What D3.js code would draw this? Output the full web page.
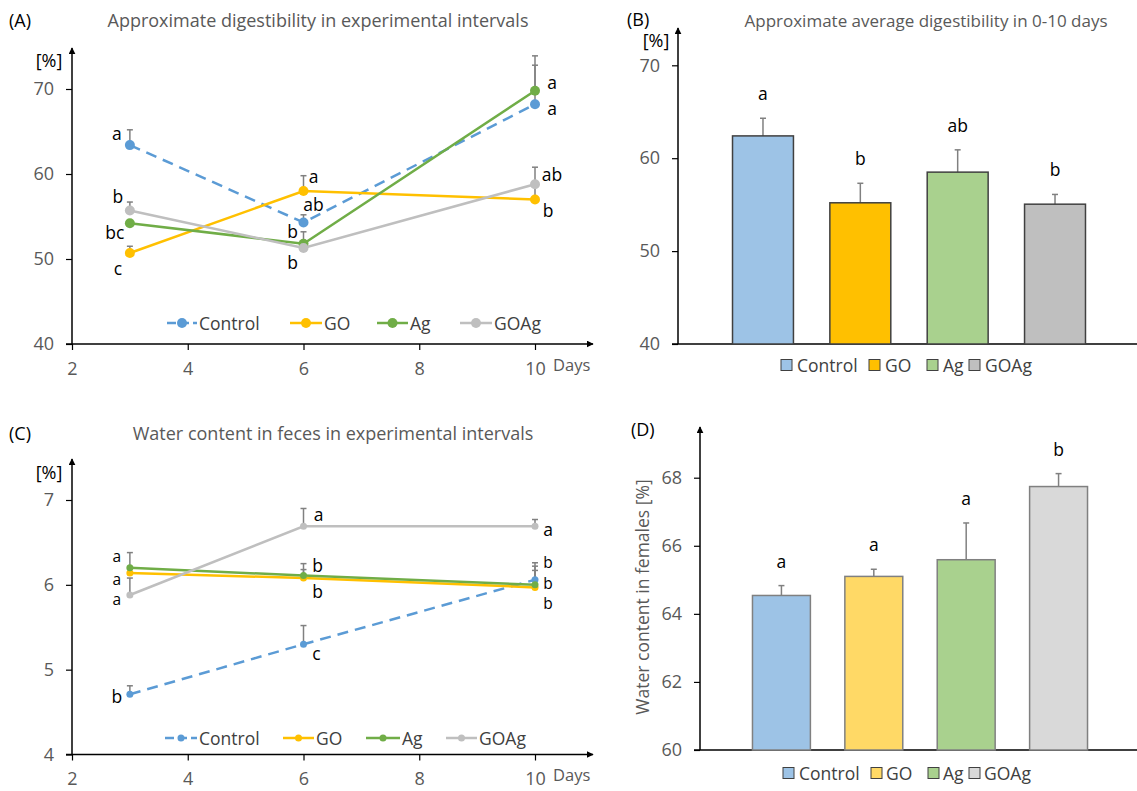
<!DOCTYPE html>
<html>
<head>
<meta charset="utf-8">
<script src="https://cdn.jsdelivr.net/npm/d3@7"></script>
<style>
  html, body { margin: 0; padding: 0; background: #fff; }
  svg { display: block; font-family: "Open Sans", "Noto Sans", sans-serif; }
</style>
</head>
<body>
<svg id="fig" width="1137" height="791"></svg>
<script>
// ---- Data -------------------------------------------------------------
const groups = ["Control", "GO", "Ag", "GOAg"];
const days = [3, 6, 10];

// (A) approximate digestibility per interval [%]
const digestControl = [63.4, 54.3, 68.2];
const digestGO      = [50.7, 58.0, 57.0];
const digestAg      = [54.2, 51.8, 69.8];
const digestGOAg    = [55.7, 51.3, 58.8];
const digestControlErr = [1.8, 0.9, 4.6];
const digestGOErr      = [0.8, 1.8, 1.6];
const digestAgErr      = [0.3, 1.4, 4.1];
const digestGOAgErr    = [1.0, 0.3, 2.0];
const digestControlSig = ["a", "ab", "a"];
const digestGOSig      = ["c", "a", "b"];
const digestAgSig      = ["bc", "b", "a"];
const digestGOAgSig    = ["b", "b", "ab"];

// (B) approximate average digestibility, days 0-10 [%]
const avgDigest    = [62.4, 55.2, 58.5, 55.05];
const avgDigestErr = [1.9, 2.1, 2.4, 1.05];
const avgDigestSig = ["a", "b", "ab", "b"];

// (C) water content in feces per interval [%]
const waterControl = [4.71, 5.30, 6.06];
const waterGO      = [6.14, 6.08, 5.97];
const waterAg      = [6.20, 6.11, 6.00];
const waterGOAg    = [5.88, 6.69, 6.69];
const waterControlErr = [0.10, 0.22, 0.20];
const waterGOErr      = [0.05, 0.10, 0.20];
const waterAgErr      = [0.18, 0.14, 0.22];
const waterGOAgErr    = [0.20, 0.21, 0.08];
const waterControlSig = ["b", "c", "b"];
const waterGOSig      = ["a", "b", "b"];
const waterAgSig      = ["a", "b", "b"];
const waterGOAgSig    = ["a", "a", "a"];

// (D) water content in females [%]
const waterFemales    = [64.54, 65.10, 65.59, 67.74];
const waterFemalesErr = [0.29, 0.21, 1.08, 0.38];
const waterFemalesSig = ["a", "a", "a", "b"];

// ---- Styling / layout -------------------------------------------------
const lineColors = { Control: "#5b9bd5", GO: "#ffc000", Ag: "#70ad47", GOAg: "#bfbfbf" };
const barColorsB = ["#9dc3e6", "#ffc000", "#a9d18e", "#bfbfbf"];
const barColorsD = ["#9dc3e6", "#ffd966", "#a9d18e", "#d9d9d9"];
const tickGray = "#595959";
const errGray = "#808080";

// letter offsets (dx, dy, font size) from each point, per group and day
const sigOffsetA = {
  Control: [[-13, -12, 17.5], [10, -18, 17.5], [17, 4, 17.5]],
  GO:      [[-12, 15, 17.5], [10, -15, 17.5], [13, 10, 17.5]],
  Ag:      [[-15, 9, 17.5], [-11, -13, 17.5], [17, -9, 17.5]],
  GOAg:    [[-12, -15, 17.5], [-11, 14, 17.5], [17, -10, 17.5]]
};
const sigOffsetC = {
  Control: [[-13, 2, 17.5], [13, 9, 17.5], [13, -18, 15.5]],
  GO:      [[-13, 6, 15.5], [14, 13, 17.5], [13, 16, 15.5]],
  Ag:      [[-13, -12, 15.5], [14, -11, 17.5], [13, -2, 15.5]],
  GOAg:    [[-13, 4, 15.5], [15, -12, 17.5], [13, 3, 17.5]]
};

const svg = d3.select("#fig");
svg.append("rect").attr("width", 1137).attr("height", 791).attr("fill", "#fff");

const defs = svg.append("defs");
defs.append("marker")
  .attr("id", "arrow")
  .attr("viewBox", "0 0 10 10")
  .attr("refX", 9).attr("refY", 5)
  .attr("markerWidth", 7).attr("markerHeight", 7)
  .attr("markerUnits", "userSpaceOnUse")
  .attr("orient", "auto")
  .append("path").attr("d", "M0,0 L10,5 L0,10 Z").attr("fill", "#000");

function text(g, x, y, str, opts = {}) {
  return g.append("text")
    .attr("x", x).attr("y", y)
    .attr("font-size", opts.size || 17)
    .attr("fill", opts.fill || "#000")
    .attr("text-anchor", opts.anchor || "start")
    .attr("dominant-baseline", "central")
    .text(str);
}

function styleAxis(g) {
  g.select(".domain").remove();
  g.selectAll(".tick line").attr("stroke", "#000").attr("stroke-width", 1.2);
  g.selectAll(".tick text")
    .attr("fill", tickGray)
    .attr("font-size", 18)
    .attr("font-family", "Open Sans, Noto Sans, sans-serif");
}

function arrowLine(g, x1, y1, x2, y2, arrow) {
  const l = g.append("line")
    .attr("x1", x1).attr("y1", y1).attr("x2", x2).attr("y2", y2)
    .attr("stroke", "#000").attr("stroke-width", 1.5);
  if (arrow) l.attr("marker-end", "url(#arrow)");
  return l;
}

function errorBar(g, x, yTop, yBase, capW) {
  g.append("line").attr("x1", x).attr("x2", x).attr("y1", yBase).attr("y2", yTop)
    .attr("stroke", errGray).attr("stroke-width", 1.5);
  g.append("line").attr("x1", x - capW / 2).attr("x2", x + capW / 2)
    .attr("y1", yTop).attr("y2", yTop)
    .attr("stroke", errGray).attr("stroke-width", 1.5);
}

// ---- Line panels (A, C) ----------------------------------------------
function linePanel(cfg) {
  const g = svg.append("g");
  const x = d3.scaleLinear().domain([2, 10]).range([72, 535]);
  const y = d3.scaleLinear().domain(cfg.yDomain).range(cfg.yRange);
  const y0 = cfg.yRange[0];

  g.append("g").attr("transform", `translate(72,0)`)
    .call(d3.axisLeft(y).tickValues(cfg.yTicks).tickSize(6).tickPadding(12).tickFormat(d3.format("d")))
    .call(styleAxis);
  g.append("g").attr("transform", `translate(0,${y0})`)
    .call(d3.axisBottom(x).tickValues([2, 4, 6, 8, 10]).tickSize(6).tickPadding(12).tickFormat(d3.format("d")))
    .call(styleAxis);
  arrowLine(g, 72, y0, 72, cfg.arrowTop, true);
  arrowLine(g, 66, y0, 593, y0, true);

  text(g, 9, cfg.titleY, cfg.letter, { size: 18 });
  text(g, cfg.titleX, cfg.titleY, cfg.title, { size: cfg.titleSize, fill: tickGray, anchor: "middle" });
  text(g, 49, cfg.unitY, "[%]", { size: 18, anchor: "middle" });
  text(g, 553, y0 + 20, "Days", { size: 16.5, fill: tickGray });

  const series = cfg.series;
  // error bars
  series.forEach(s => {
    s.values.forEach((v, i) => errorBar(g, x(days[i]), y(v + s.err[i]), y(v), 6));
  });
  // lines
  series.forEach(s => {
    g.append("path")
      .datum(s.values)
      .attr("fill", "none")
      .attr("stroke", lineColors[s.name])
      .attr("stroke-width", 2.5)
      .attr("stroke-dasharray", s.name === "Control" ? "11,7" : null)
      .attr("d", d3.line().x((d, i) => x(days[i])).y(d => y(d)));
  });
  // markers
  series.forEach(s => {
    g.selectAll(null).data(s.values).enter().append("circle")
      .attr("cx", (d, i) => x(days[i])).attr("cy", d => y(d))
      .attr("r", cfg.markerR).attr("fill", lineColors[s.name]);
  });
  // significance letters
  series.forEach(s => {
    s.values.forEach((v, i) => {
      const o = cfg.offsets[s.name][i];
      text(g, x(days[i]) + o[0], y(v) + o[1], s.sig[i], { size: o[2], anchor: "middle" });
    });
  });
  // legend
  cfg.legend.forEach((item, k) => {
    const s = series[k];
    g.append("line").attr("x1", item[0]).attr("x2", item[1]).attr("y1", cfg.legendY).attr("y2", cfg.legendY)
      .attr("stroke", lineColors[s.name]).attr("stroke-width", 2.5)
      .attr("stroke-dasharray", s.name === "Control" ? "9,4" : null);
    g.append("circle").attr("cx", (item[0] + item[1]) / 2).attr("cy", cfg.legendY)
      .attr("r", cfg.markerR).attr("fill", lineColors[s.name]);
    text(g, item[1] + 2, cfg.legendY, s.name, { size: 17.5, fill: "#404040" });
  });
}

linePanel({
  letter: "(A)", title: "Approximate digestibility in experimental intervals",
  titleX: 318, titleY: 20, unitY: 60, titleSize: 18,
  yDomain: [40, 70], yRange: [344, 89], yTicks: [40, 50, 60, 70], arrowTop: 48,
  markerR: 5, legendY: 323,
  legend: [[167, 197], [290, 322], [377, 408], [460, 492]],
  offsets: sigOffsetA,
  series: [
    { name: "Control", values: digestControl, err: digestControlErr, sig: digestControlSig },
    { name: "GO", values: digestGO, err: digestGOErr, sig: digestGOSig },
    { name: "Ag", values: digestAg, err: digestAgErr, sig: digestAgSig },
    { name: "GOAg", values: digestGOAg, err: digestGOAgErr, sig: digestGOAgSig }
  ]
});

linePanel({
  letter: "(C)", title: "Water content in feces in experimental intervals",
  titleX: 333, titleY: 433, unitY: 472, titleSize: 18,
  yDomain: [4, 7], yRange: [754.5, 500], yTicks: [4, 5, 6, 7], arrowTop: 459,
  markerR: 3.5, legendY: 738,
  legend: [[165, 197], [283, 314], [366, 400], [446, 477]],
  offsets: sigOffsetC,
  series: [
    { name: "Control", values: waterControl, err: waterControlErr, sig: waterControlSig },
    { name: "GO", values: waterGO, err: waterGOErr, sig: waterGOSig },
    { name: "Ag", values: waterAg, err: waterAgErr, sig: waterAgSig },
    { name: "GOAg", values: waterGOAg, err: waterGOAgErr, sig: waterGOAgSig }
  ]
});

// ---- Bar panels (B, D) ------------------------------------------------
function barPanel(cfg) {
  const g = svg.append("g");
  const x = d3.scaleBand().domain(groups).range(cfg.xRange)
    .paddingInner(cfg.padInner).paddingOuter(cfg.padOuter);
  const y = d3.scaleLinear().domain(cfg.yDomain).range(cfg.yRange);
  const ax = cfg.xRange[0];
  const y0 = cfg.yRange[0];

  g.append("g").attr("transform", `translate(${ax},0)`)
    .call(d3.axisLeft(y).tickValues(cfg.yTicks).tickSize(6).tickPadding(12).tickFormat(d3.format("d")))
    .call(styleAxis);
  arrowLine(g, ax, y0, ax, cfg.arrowTop, true);
  arrowLine(g, ax - 6, y0, 1137, y0, false);

  // error bars
  cfg.values.forEach((v, i) => {
    const cx = x(groups[i]) + x.bandwidth() / 2;
    errorBar(g, cx, y(v + cfg.err[i]), y(v), 6);
  });
  // bars
  g.selectAll(null).data(cfg.values).enter().append("rect")
    .attr("x", (d, i) => x(groups[i]))
    .attr("y", d => y(d))
    .attr("width", x.bandwidth())
    .attr("height", d => y0 - y(d))
    .attr("fill", (d, i) => cfg.colors[i])
    .attr("stroke", cfg.stroke).attr("stroke-width", 1.5);
  // letters
  cfg.values.forEach((v, i) => {
    const cx = x(groups[i]) + x.bandwidth() / 2;
    text(g, cx, y(v + cfg.err[i]) - 25, cfg.sig[i], { size: 17.5, anchor: "middle" });
  });
  // legend
  groups.forEach((name, i) => {
    g.append("rect").attr("x", cfg.legendBox[i]).attr("y", cfg.legendY - 5.5)
      .attr("width", 11).attr("height", 11)
      .attr("fill", cfg.colors[i]).attr("stroke", "#404040").attr("stroke-width", 1);
    text(g, cfg.legendText[i], cfg.legendY, name, { size: 17.5, fill: "#404040" });
  });
  return g;
}

const gB = barPanel({
  xRange: [678, 1140], padInner: 0.374, padOuter: 0.56,
  yDomain: [40, 70], yRange: [344, 65.3], yTicks: [40, 50, 60, 70], arrowTop: 28,
  values: avgDigest, err: avgDigestErr, sig: avgDigestSig,
  colors: barColorsB, stroke: "#404040",
  legendY: 365, legendBox: [781, 869, 927, 969], legendText: [797, 885, 943, 985]
});
text(gB, 627, 19, "(B)", { size: 18 });
text(gB, 656, 40, "[%]", { size: 18, anchor: "middle" });
text(gB, 926, 20, "Approximate average digestibility in 0-10 days", { size: 17, fill: tickGray, anchor: "middle" });

const gD = barPanel({
  xRange: [700, 1140], padInner: 0.373, padOuter: 0.568,
  yDomain: [60, 68], yRange: [750, 477.7], yTicks: [60, 62, 64, 66, 68], arrowTop: 427,
  values: waterFemales, err: waterFemalesErr, sig: waterFemalesSig,
  colors: barColorsD, stroke: "#808080",
  legendY: 773, legendBox: [783, 871, 928, 969], legendText: [799, 886, 943, 984]
});
text(gD, 631, 429, "(D)", { size: 18 });
gD.append("text")
  .attr("transform", "translate(642,597) rotate(-90)")
  .attr("text-anchor", "middle").attr("dominant-baseline", "central")
  .attr("font-size", 17.5).attr("fill", tickGray)
  .text("Water content in females [%]");
</script>
</body>
</html>
